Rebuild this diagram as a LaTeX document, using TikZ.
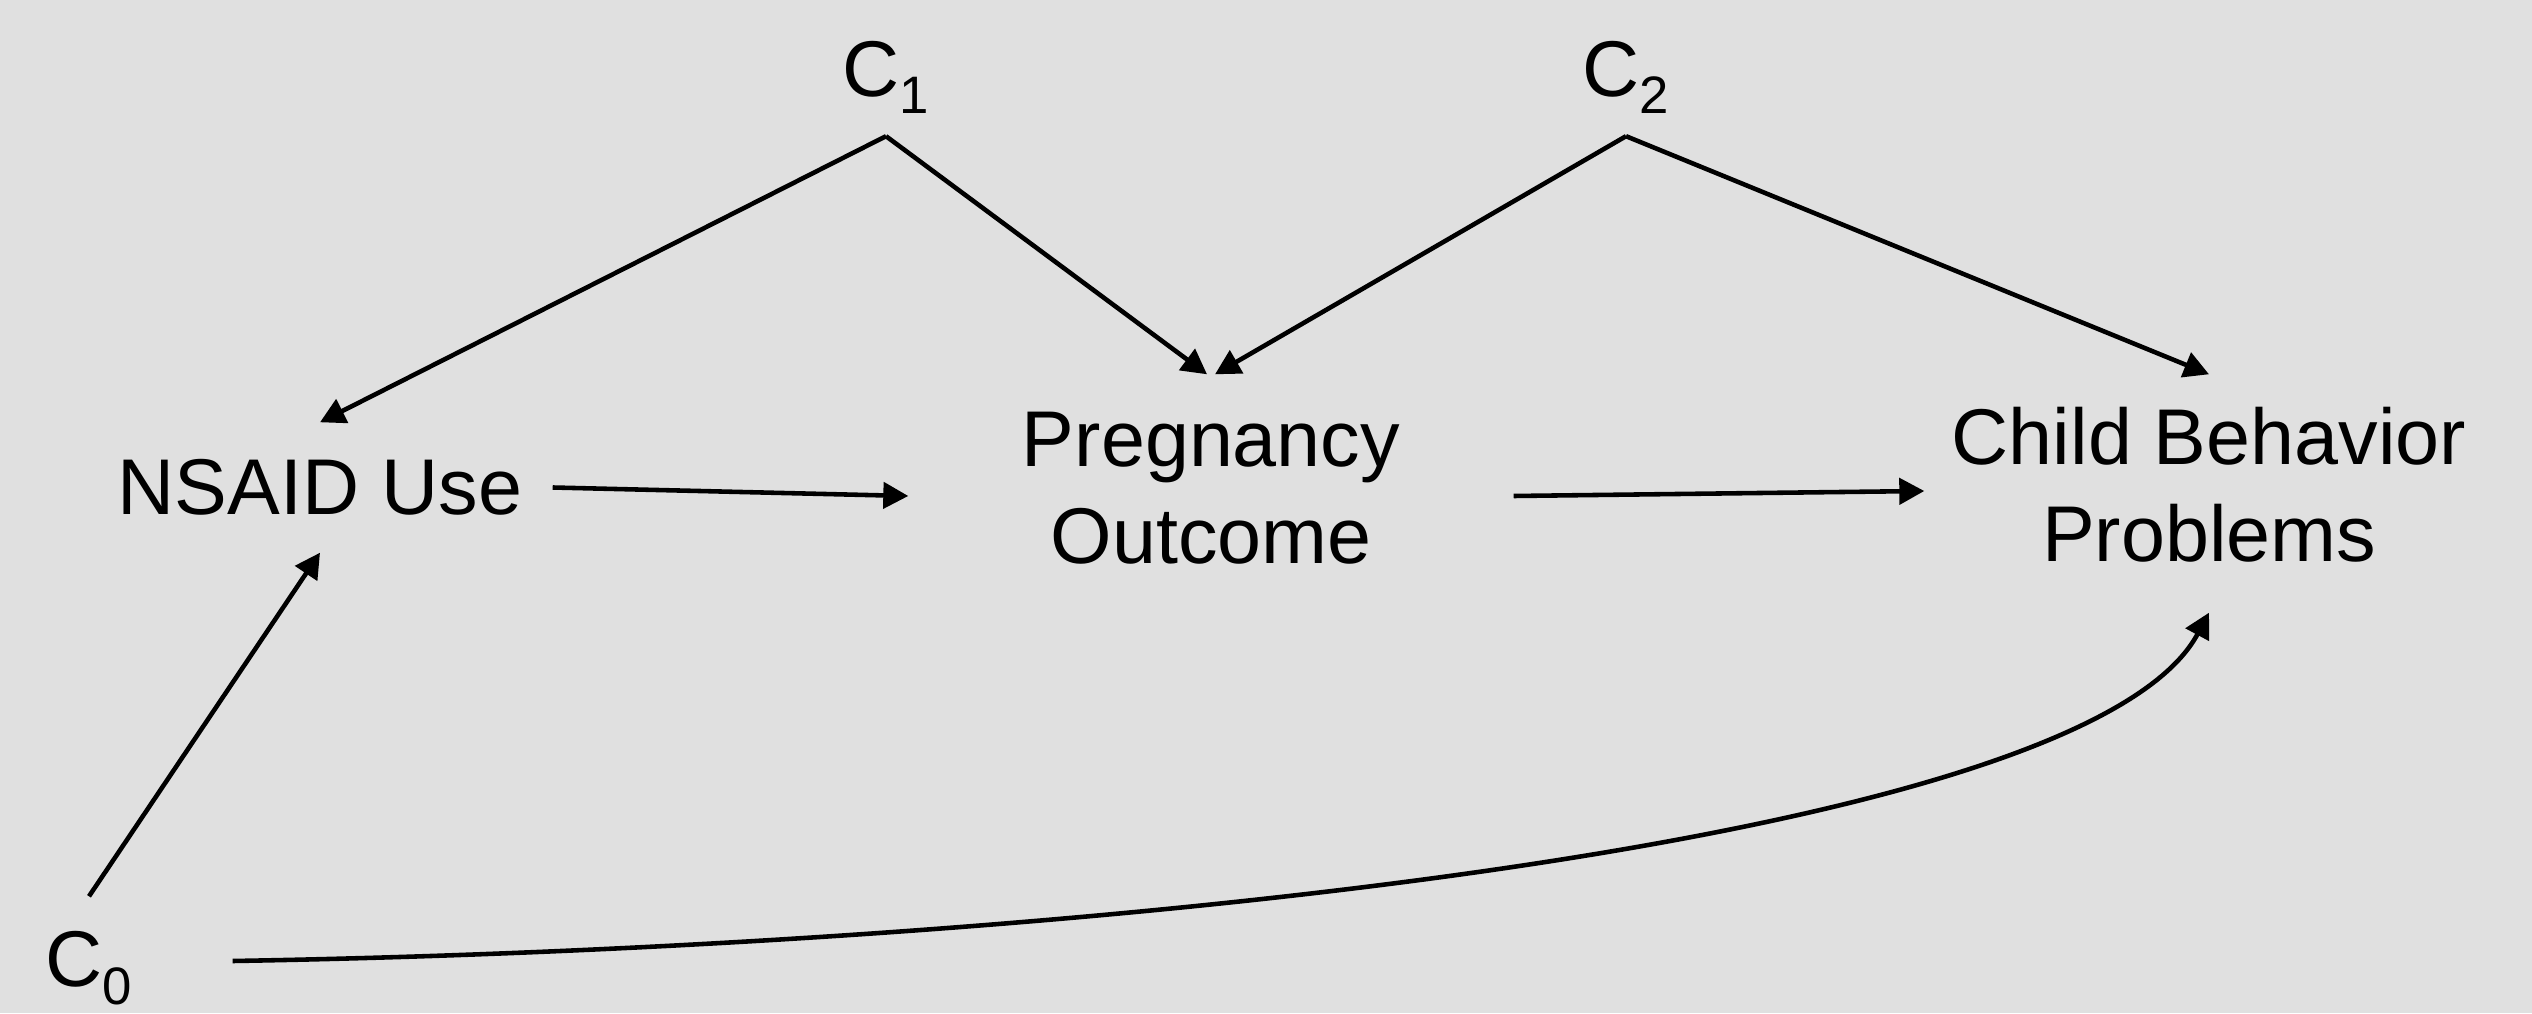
\documentclass[tikz,border=0pt]{standalone}
\usepackage{fontspec}
\setmainfont{Liberation Sans}
\usetikzlibrary{arrows.meta,positioning}
\definecolor{bggray}{RGB}{224,224,224}
\newcommand{\csub}[1]{\raisebox{-5pt}{\fontsize{15}{15}\selectfont #1}}

\begin{document}
\begin{tikzpicture}[var/.style={inner sep=0pt, align=center,
                                font=\fontsize{22.5}{27.5}\selectfont},
                    edge/.style={-{Triangle[length=0.25cm,width=0.26cm]},
                                 line width=1.3pt}]
  \fill[bggray] (0,0) rectangle (25.32,10.13);
  \useasboundingbox (0,0) rectangle (25.32,10.13);

  \node[var, minimum height=1.16cm] (c1) at (8.86,9.355) {C\csub{1}};
  \node[var, minimum height=1.16cm] (c2) at (16.26,9.355) {C\csub{2}};
  \node[var, minimum width=2.86cm, minimum height=1.42cm] (c0) at (0.89,0.45) {C\csub{0}};
  \node[var, minimum width=4.64cm, minimum height=1.29cm] (nsaid) at (3.20,5.255) {NSAID Use};
  \node[var, minimum width=6.04cm, minimum height=2.26cm] (preg) at (12.11,5.25) {Pregnancy\\Outcome};
  \node[var, minimum width=5.68cm, minimum height=2.2cm] (child) at (22.09,5.28) {Child Behavior\\Problems};

  \draw[edge] (c1.south) -- (nsaid.north);
  \draw[edge] (c1.south) -- ([xshift=-0.04cm]preg.north);
  \draw[edge] (c2.south) -- ([xshift=0.04cm]preg.north);
  \draw[edge] (c2.south) -- (child.north);
  \draw[edge] (c0.north) -- (nsaid.south);
  \draw[edge] (nsaid.east) -- ([yshift=-0.08cm]preg.west);
  \draw[edge] ([yshift=-0.08cm]preg.east) -- ([yshift=-0.06cm]child.west);
  \draw[edge] ([yshift=0.07cm]c0.east) .. controls (10,0.65) and (20.8,1.6) .. ([yshift=-0.17cm]child.south);
\end{tikzpicture}
\end{document}
